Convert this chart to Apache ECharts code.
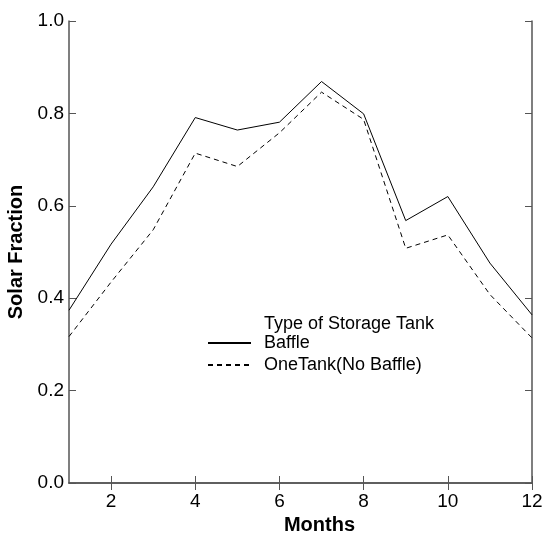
<!DOCTYPE html>
<html>
<head>
<meta charset="utf-8">
<script src="https://cdn.jsdelivr.net/npm/echarts@6/dist/echarts.min.js"></script>
<style>
  html, body { margin: 0; padding: 0; background: #fff; }
  #chart { width: 547px; height: 536px; }
</style>
</head>
<body>
<div id="chart"></div>
<script>
// values
var months = [1, 2, 3, 4, 5, 6, 7, 8, 9, 10, 11, 12];
var baffle = [0.374, 0.517, 0.641, 0.791, 0.764, 0.781, 0.869, 0.799, 0.568, 0.620, 0.476, 0.364];
var oneTank = [0.317, 0.435, 0.548, 0.714, 0.685, 0.758, 0.846, 0.787, 0.508, 0.537, 0.408, 0.314];
var xTicks = [2, 4, 6, 8, 10, 12];

var font = 'Liberation Sans, Arial, sans-serif';
var axisColor = '#555';

function pairs(ys) {
  var out = [];
  for (var i = 0; i < months.length; i++) out.push([months[i], ys[i]]);
  return out;
}

var chart = echarts.init(document.getElementById('chart'));

var option = {
  animation: false,
  backgroundColor: '#fff',
  grid: { left: 69, right: 15, top: 21, bottom: 53, outerBoundsMode: 'none' },
  title: {
    text: 'Type of Storage Tank',
    left: 264, top: 315,
    padding: 0,
    textStyle: { fontFamily: font, fontSize: 18, fontWeight: 'normal', color: '#000' }
  },
  legend: {
    orient: 'vertical',
    left: 207, top: 334,
    padding: 0,
    itemWidth: 43, itemHeight: 14, itemGap: 4,
    itemStyle: { opacity: 0 },
    textStyle: { fontFamily: font, fontSize: 18, color: '#000', padding: [0, 0, 0, 8] },
    data: ['Baffle', 'OneTank(No Baffle)']
  },
  xAxis: [{
    type: 'value', min: 1, max: 12,
    name: 'Months', nameLocation: 'middle', nameGap: 32,
    nameTextStyle: { fontFamily: font, fontSize: 20, fontWeight: 'bold', color: '#000', padding: [0, 0, 0, 38] },
    axisLine: { lineStyle: { color: axisColor, width: 1.5 } },
    axisTick: { inside: true, length: 7, customValues: xTicks, lineStyle: { color: axisColor } },
    axisLabel: { customValues: xTicks, margin: 9, fontFamily: font, fontSize: 19, color: '#000' },
    splitLine: { show: false }
  }, {
    type: 'value', min: 1, max: 12, position: 'top',
    axisLine: { lineStyle: { color: axisColor, width: 1.5 } },
    axisTick: { inside: true, length: 7, customValues: xTicks, lineStyle: { color: axisColor } },
    axisLabel: { show: false },
    splitLine: { show: false }
  }],
  yAxis: [{
    type: 'value', min: 0, max: 1, interval: 0.2,
    name: 'Solar Fraction', nameLocation: 'middle', nameGap: 40,
    nameTextStyle: { fontFamily: font, fontSize: 20, fontWeight: 'bold', color: '#000' },
    axisLine: { show: true, lineStyle: { color: axisColor, width: 1.5 } },
    axisTick: { show: true, inside: true, length: 7, lineStyle: { color: axisColor } },
    axisLabel: { margin: 5, fontFamily: font, fontSize: 19, color: '#000',
      formatter: function (v) { return v.toFixed(1); } },
    splitLine: { show: false }
  }, {
    type: 'value', min: 0, max: 1, interval: 0.2, position: 'right',
    axisLine: { show: true, lineStyle: { color: axisColor, width: 1.5 } },
    axisTick: { show: true, inside: true, length: 7, lineStyle: { color: axisColor } },
    axisLabel: { show: false },
    splitLine: { show: false }
  }],
  series: [{
    name: 'Baffle',
    type: 'line',
    symbol: 'none',
    color: '#000',
    lineStyle: { color: '#000', width: 1 },
    data: pairs(baffle)
  }, {
    name: 'OneTank(No Baffle)',
    type: 'line',
    symbol: 'none',
    color: '#000',
    lineStyle: { color: '#000', width: 1, type: [5, 4] },
    data: pairs(oneTank)
  }]
};

chart.setOption(option);
</script>
</body>
</html>
